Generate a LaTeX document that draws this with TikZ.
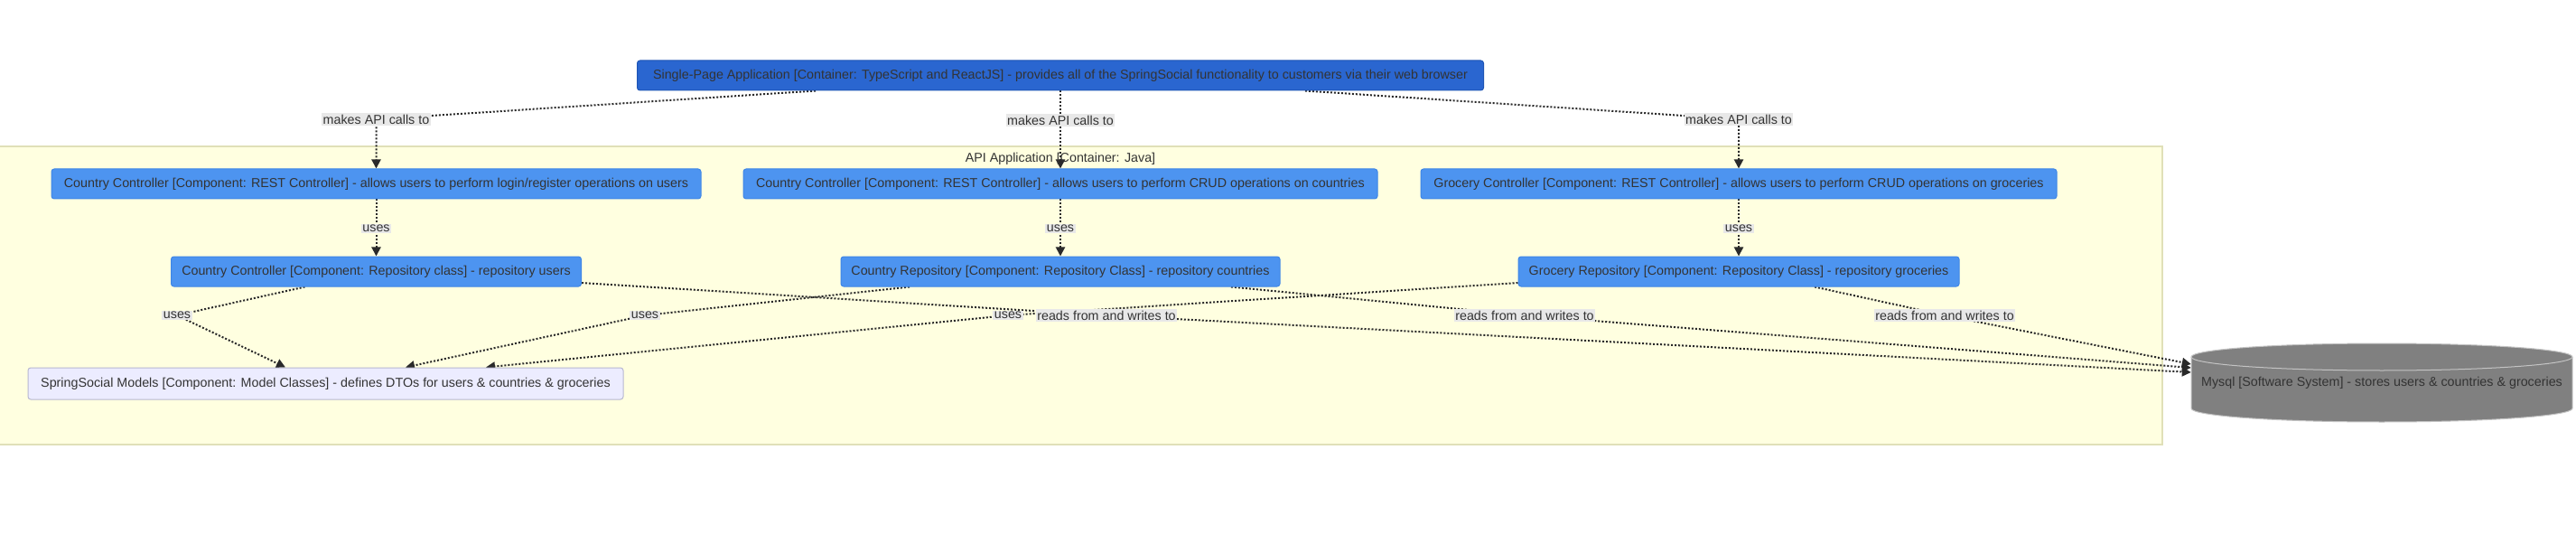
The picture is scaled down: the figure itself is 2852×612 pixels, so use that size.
\documentclass[tikz,border=0pt]{standalone}
\usepackage{fontspec}
\setmainfont{Liberation Sans}
\usetikzlibrary{arrows.meta}
\pgfdeclarelayer{bg}
\pgfdeclarelayer{edges}
\pgfsetlayers{bg,edges,main}
\definecolor{spafill}{HTML}{2A66D0}
\definecolor{spaline}{HTML}{1F55B5}
\definecolor{compfill}{HTML}{4D94F0}
\definecolor{compline}{HTML}{3F86E6}
\definecolor{modfill}{HTML}{ECECFF}
\definecolor{modline}{HTML}{B8B8D0}
\definecolor{contfill}{HTML}{FFFFE0}
\definecolor{contline}{HTML}{E0E0B8}
\definecolor{dbfill}{HTML}{808080}
\definecolor{dbline}{HTML}{C4C4C4}
\definecolor{lblfill}{HTML}{E8E8E8}
\definecolor{txt}{HTML}{333333}
\definecolor{edgec}{HTML}{2A2A2A}
\begin{document}
\begin{tikzpicture}[x=1pt,y=-1pt,
  every node/.style={font=\fontsize{14.3}{17}\selectfont, text=txt},
  boxbase/.style={rounded corners=3pt, minimum height=33pt, inner sep=0pt, line width=1pt},
  spabox/.style={boxbase, draw=spaline, fill=spafill},
  compbox/.style={boxbase, draw=compline, fill=compfill},
  modbox/.style={boxbase, draw=modline, fill=modfill, minimum height=35pt},
  lbl/.style={fill=lblfill, inner sep=1.5pt},
  edge/.style={draw=edgec, line width=2pt, dash pattern=on 2pt off 2pt,
    -{Triangle[length=10pt,width=10pt]}}
]
\useasboundingbox (0,0) rectangle (2852,612);

% background and container
\begin{pgfonlayer}{bg}
\fill[white] (0,0) rectangle (2852,612);
\draw[fill=contfill, draw=contline, line width=1.5pt] (-2,162) rectangle (2394,492);
\end{pgfonlayer}
\node (title) at (1174,176) {API Application [Container: Java]};

% top node
\node[spabox, minimum width=937pt] (spa) at (1174,83.5)
  {Single-Page Application [Container: TypeScript and ReactJS] - provides all of the SpringSocial functionality to customers via their web browser};

% row 1
\node[compbox, minimum width=719pt] (c1) at (416.5,203.5)
  {Country Controller [Component: REST Controller] - allows users to perform login/register operations on users};
\node[compbox, minimum width=702pt] (c2) at (1174,203.5)
  {Country Controller [Component: REST Controller] - allows users to perform CRUD operations on countries};
\node[compbox, minimum width=704pt] (c3) at (1925,203.5)
  {Grocery Controller [Component: REST Controller] - allows users to perform CRUD operations on groceries};

% row 2
\node[compbox, minimum width=454pt] (r1) at (416.5,300.5)
  {Country Controller [Component: Repository class] - repository users};
\node[compbox, minimum width=486pt] (r2) at (1174,300.5)
  {Country Repository [Component: Repository Class] - repository countries};
\node[compbox, minimum width=488pt] (r3) at (1925,300.5)
  {Grocery Repository [Component: Repository Class] - repository groceries};

% models
\node[modbox, minimum width=659pt] (m) at (360.5,424.5)
  {SpringSocial Models [Component: Model Classes] - defines DTOs for users \& countries \& groceries};

% database cylinder
\fill[dbfill] (2426,395) rectangle (2848,452);
\fill[dbfill] (2637,452) ellipse [x radius=211pt, y radius=15pt];
\draw[dbline, line width=1pt] (2426,395) -- (2426,452) arc[start angle=180, end angle=360, x radius=211pt, y radius=15pt] -- (2848,395);
\filldraw[fill=dbfill, draw=dbline, line width=1pt] (2637,395) ellipse [x radius=211pt, y radius=15pt];
\node[minimum width=422pt, minimum height=87pt, inner sep=0pt] (db) at (2637,423.5)
  {Mysql [Software System] - stores users \& countries \& groceries};

% edge labels
\node[lbl] (l1) at (416.5,132) {makes API calls to};
\node[lbl] (l2) at (1174,133) {makes API calls to};
\node[lbl] (l3) at (1925,132) {makes API calls to};
\node[lbl] (u1) at (416.5,253) {uses};
\node[lbl] (u2) at (1174,253) {uses};
\node[lbl] (u3) at (1925,253) {uses};
\node[lbl] (ua) at (196,349) {uses};
\node[lbl] (ub) at (714,349) {uses};
\node[lbl] (uc) at (1116,349) {uses};
\node[lbl] (ra) at (1225,349) {reads from and writes to};
\node[lbl] (rb) at (1688,349) {reads from and writes to};
\node[lbl] (rc) at (2153,349) {reads from and writes to};

% edges
\begin{pgfonlayer}{edges}
\draw[edge] ([xshift=-271pt]spa.south) -- (l1.center) -- (c1.north);
\draw[edge] (spa.south) -- (l2.center) -- (c2.north);
\draw[edge] ([xshift=271pt]spa.south) -- (l3.center) -- (c3.north);
\draw[edge] (c1.south) -- (u1.center) -- (r1.north);
\draw[edge] (c2.south) -- (u2.center) -- (r2.north);
\draw[edge] (c3.south) -- (u3.center) -- (r3.north);
\draw[edge] ([xshift=-79pt]r1.south) -- (ua.center) -- ([xshift=-44.5pt]m.north);
\draw[edge] ([xshift=-167pt]r2.south) -- (ub.center) -- ([xshift=88.5pt]m.north);
\draw[edge] ([yshift=-12.5pt]r3.west) -- (uc.center) -- ([xshift=177.5pt]m.north);
\draw[edge] ([yshift=-12.5pt]r1.east) -- (ra.center) -- ([yshift=11.5pt]db.west);
\draw[edge] ([xshift=189pt]r2.south) -- (rb.center) -- ([yshift=16.5pt]db.west);
\draw[edge] ([xshift=84pt]r3.south) -- (rc.center) -- ([yshift=20.5pt]db.west);
\end{pgfonlayer}
\end{tikzpicture}
\end{document}
